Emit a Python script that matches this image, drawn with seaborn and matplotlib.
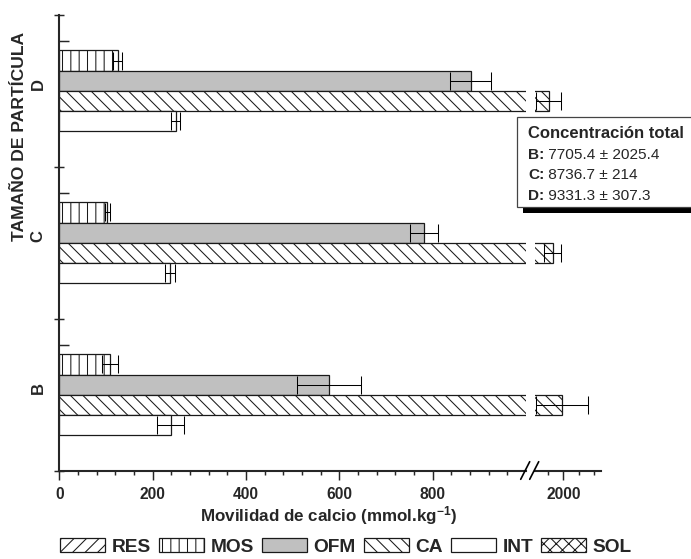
import numpy as np
import pandas as pd
import matplotlib
matplotlib.use('Agg')
import matplotlib.pyplot as plt
import matplotlib.transforms as mtransforms
import seaborn as sns
from matplotlib.patches import Patch, Rectangle
from matplotlib.lines import Line2D
from matplotlib.ticker import FixedLocator

# ---------------- data ----------------
categories = ['B', 'C', 'D']
fractions = ['MOS', 'OFM', 'CA', 'INT']
legend_labels = ['RES', 'MOS', 'OFM', 'CA', 'INT', 'SOL']
mos = [109, 103, 125]
mos_err = [17, 6, 9]
ofm = [578, 782, 882]
ofm_err = [69, 30, 44]
ca = [1997, 1965, 1952]
ca_err = [85, 28, 42]
intc = [239, 237, 249]
intc_err = [29, 11, 9]
total_labels = ['B:', 'C:', 'D:']
totals = [7705.4, 8736.7, 9331.3]
totals_err = [2025.4, 214, 307.3]
left_ticks = [0, 200, 400, 600, 800]
right_ticks = [2000]

# ---------------- style ----------------
sns.set_style('ticks')
plt.rcParams['font.family'] = ['Liberation Sans', 'DejaVu Sans']
plt.rcParams['font.weight'] = 'bold'
plt.rcParams['mathtext.fontset'] = 'custom'
plt.rcParams['mathtext.rm'] = 'Liberation Sans:bold'
plt.rcParams['mathtext.bf'] = 'Liberation Sans:bold'
plt.rcParams['mathtext.default'] = 'bf'
plt.rcParams['hatch.linewidth'] = 0.5
plt.rcParams['hatch.color'] = 'black'

styles = {
    'RES': dict(facecolor='white', hatch='////'),
    'MOS': dict(facecolor='white', hatch='|||'),
    'OFM': dict(facecolor='#c0c0c0', hatch=''),
    'CA': dict(facecolor='white', hatch='\\\\\\\\'),
    'INT': dict(facecolor='white', hatch=''),
    'SOL': dict(facecolor='white', hatch='xxxx'),
}
EDGE = '#1a1a1a'

rows = []
for frac, vals in zip(fractions, [mos, ofm, ca, intc]):
    for cat, v in zip(categories, vals):
        rows.append(dict(size=cat, fraction=frac, value=v))
df = pd.DataFrame(rows)
errs = {f: dict(zip(categories, e)) for f, e in
        zip(fractions, [mos_err, ofm_err, ca_err, intc_err])}

DPI = 150
W, H = 691, 559
fig = plt.figure(figsize=(W / DPI, H / DPI), dpi=DPI)
fig.patch.set_facecolor('white')


def fx(px):
    return px / W


def fy(py):
    return 1 - py / H


top_px, bot_px = 15.0, 470.7
ax1 = fig.add_axes([fx(59.3), fy(bot_px), fx(526) - fx(59.3), (bot_px - top_px) / H])
ax2 = fig.add_axes([fx(534.7), fy(bot_px), fx(600.7) - fx(534.7), (bot_px - top_px) / H])

order = ['D', 'C', 'B']
for ax in (ax1, ax2):
    sns.barplot(data=df, x='value', y='size', hue='fraction', order=order,
                hue_order=fractions, orient='h', width=0.533, gap=0,
                errorbar=None, ax=ax, legend=False, dodge=True)
    conts = list(ax.containers)[:4]
    for frac, cont in zip(fractions, conts):
        xs, ys, es = [], [], []
        for bar in cont:
            bar.set_facecolor(styles[frac]['facecolor'])
            bar.set_hatch(styles[frac]['hatch'])
            bar.set_edgecolor(EDGE)
            bar.set_linewidth(0.6)
            yc = bar.get_y() + bar.get_height() / 2
            cat = order[int(round(yc))]
            xs.append(bar.get_width())
            ys.append(yc)
            es.append(errs[frac][cat])
        ax.errorbar(xs, ys, xerr=es, fmt='none', ecolor='black',
                    elinewidth=0.5, capsize=4.5, capthick=0.5)
    ax.set_ylim(2.5, -0.5)
    ax.set_xlabel('')
    ax.set_ylabel('')
    ax.set_facecolor('none')

# left axis
ax1.set_xlim(0, 1000)
ax1.xaxis.set_major_locator(FixedLocator(left_ticks))
ax1.xaxis.set_minor_locator(FixedLocator([v for v in range(40, 1000, 40) if v % 200 != 0]))
ax1.set_xticklabels([str(t) for t in left_ticks])
ax1.yaxis.set_major_locator(FixedLocator([-0.5, 0.5, 1.5, 2.5]))
ax1.yaxis.set_minor_locator(FixedLocator([-0.329, 0.671, 1.671]))
ax1.set_yticklabels([])
for s in ['top', 'right']:
    ax1.spines[s].set_visible(False)
for s in ['left', 'bottom']:
    ax1.spines[s].set_linewidth(1.0)
ax1.tick_params(axis='x', which='major', direction='out', length=4.3, width=0.7,
                pad=3.4, labelsize=7.5)
ax1.tick_params(axis='x', which='minor', direction='out', length=1.9, width=0.7)
ax1.tick_params(axis='y', which='major', direction='inout', length=4.8, width=0.7)
ax1.tick_params(axis='y', which='minor', direction='in', length=4.6, width=0.7)

# right axis
ax2.set_xlim(1906.5, 2122)
ax2.xaxis.set_major_locator(FixedLocator(right_ticks))
ax2.xaxis.set_minor_locator(FixedLocator([1950, 2050, 2100]))
ax2.set_xticklabels([str(t) for t in right_ticks])
for s in ['top', 'right', 'left']:
    ax2.spines[s].set_visible(False)
ax2.spines['bottom'].set_linewidth(1.0)
ax2.set_yticks([])
ax2.tick_params(axis='x', which='major', direction='out', length=4.3, width=0.7,
                pad=3.4, labelsize=7.5)
ax2.tick_params(axis='x', which='minor', direction='out', length=1.9, width=0.7)

# axis break marks
for x0 in (520.7, 529.7):
    fig.add_artist(Line2D([fx(x0), fx(x0 + 9)], [fy(479.3), fy(461.7)],
                          transform=fig.transFigure, color='black', lw=0.8))

# category labels
trans = mtransforms.blended_transform_factory(ax1.transAxes, ax1.transData)
for i, cat in enumerate(order):
    ax1.text(-0.0456, i - 0.045, cat, transform=trans, rotation=90,
             ha='center', va='center', fontsize=8, weight='bold')

# axis titles
fig.text(fx(19.5), fy(136), 'TAMAÑO DE PARTÍCULA', rotation=90, ha='center',
         va='center', fontsize=8.4, weight='bold')
fig.text(fx(329), fy(516), r'Movilidad de calcio (mmol.kg$^{-1}$)', ha='center',
         va='center', fontsize=8.2, weight='bold')

# total concentration box
fig.add_artist(Rectangle((fx(522.7), fy(213.3)), 0.3, fy(123.9) - fy(213.3),
                         transform=fig.transFigure, facecolor='black',
                         edgecolor='none'))
fig.add_artist(Rectangle((fx(516.7), fy(206.7)), 0.3, fy(117.3) - fy(206.7),
                         transform=fig.transFigure, facecolor='white',
                         edgecolor='#444444', lw=0.6))
fig.text(fx(528), fy(133), 'Concentración total', ha='left', va='center',
         fontsize=8.0, weight='bold')
renderer = fig.canvas.get_renderer()
for lab, tot, err, ypx in zip(total_labels, totals, totals_err, [155, 175, 195]):
    t = fig.text(fx(528), fy(ypx + 4.5), lab, ha='left', va='baseline', fontsize=7.4,
                 weight='bold')
    bb = t.get_window_extent(renderer)
    fig.text(bb.x1 / fig.bbox.width, fy(ypx + 4.5), f' {tot:g} ± {err:g}', ha='left',
             va='baseline', fontsize=7.4, weight='normal')

# legend
handles = [Patch(facecolor=styles[l]['facecolor'], hatch=styles[l]['hatch'],
                 edgecolor=EDGE, lw=0.6) for l in legend_labels]
fig.legend(handles, legend_labels, loc='center', bbox_to_anchor=(fx(346), fy(547)),
           ncol=6, frameon=False, handlelength=2.35, handleheight=0.74,
           handletextpad=0.35, columnspacing=0.4, borderpad=0,
           prop=dict(size=9.2, weight='bold'))

fig.savefig('out.png', dpi=DPI, facecolor='white')
